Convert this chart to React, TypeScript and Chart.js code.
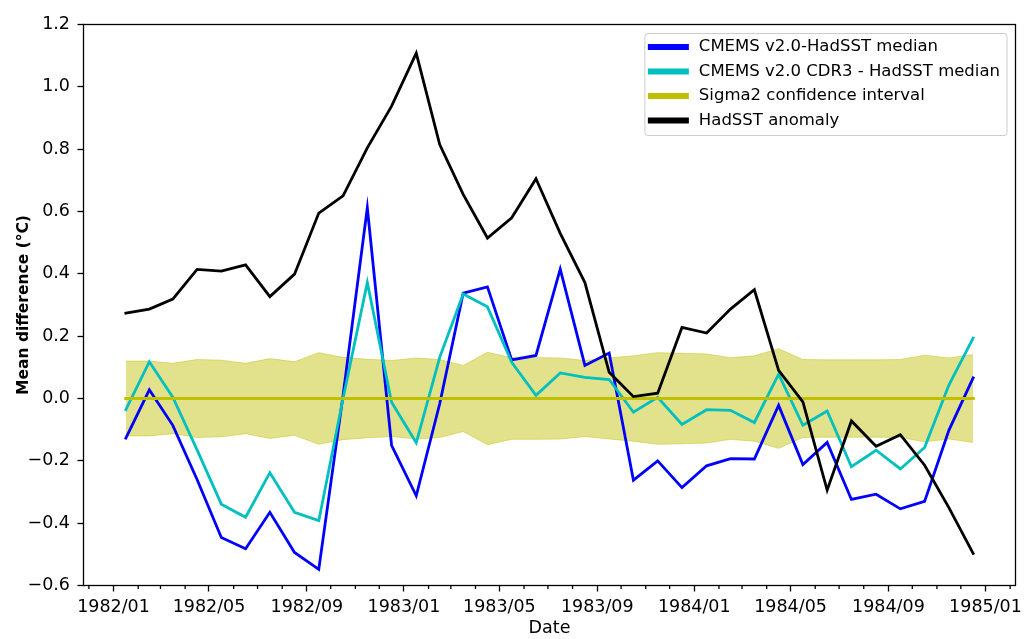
import { useEffect, useRef } from 'react';
import { Chart, registerables } from 'chart.js';

Chart.register(...registerables);

// Monthly series, Jan 1982 – Dec 1984 (plotted at mid-month)
const months = [
  '1982-01', '1982-02', '1982-03', '1982-04', '1982-05', '1982-06',
  '1982-07', '1982-08', '1982-09', '1982-10', '1982-11', '1982-12',
  '1983-01', '1983-02', '1983-03', '1983-04', '1983-05', '1983-06',
  '1983-07', '1983-08', '1983-09', '1983-10', '1983-11', '1983-12',
  '1984-01', '1984-02', '1984-03', '1984-04', '1984-05', '1984-06',
  '1984-07', '1984-08', '1984-09', '1984-10', '1984-11', '1984-12',
];

const cmemsV20MinusHadsst = [
  -0.127, 0.028, -0.086, -0.26, -0.446, -0.482, -0.365, -0.494, -0.548, 0.01, 0.612, -0.15,
  -0.312, -0.017, 0.338, 0.358, 0.124, 0.138, 0.415, 0.106, 0.146, -0.262, -0.2, -0.286,
  -0.216, -0.193, -0.194, -0.022, -0.212, -0.141, -0.324, -0.307, -0.354, -0.33, -0.102, 0.066,
];

const cmemsCdr3MinusHadsst = [
  -0.036, 0.118, 0.004, -0.165, -0.339, -0.381, -0.238, -0.365, -0.392, 0.0, 0.372, -0.012,
  -0.142, 0.132, 0.335, 0.294, 0.116, 0.01, 0.082, 0.068, 0.061, -0.044, 0.004, -0.083,
  -0.036, -0.038, -0.077, 0.078, -0.086, -0.04, -0.219, -0.166, -0.226, -0.157, 0.043, 0.194,
];

// Half-width of the sigma2 confidence band around zero
const sigma2HalfWidth = [
  0.12, 0.12, 0.113, 0.125, 0.123, 0.113, 0.128, 0.118, 0.147, 0.132, 0.126, 0.122,
  0.13, 0.125, 0.106, 0.148, 0.131, 0.131, 0.13, 0.122, 0.13, 0.137, 0.147, 0.145,
  0.143, 0.131, 0.137, 0.16, 0.125, 0.124, 0.124, 0.124, 0.125, 0.139, 0.13, 0.141,
];
const sigma2Centre = 0;

const hadsstAnomaly = [
  0.274, 0.287, 0.319, 0.414, 0.409, 0.429, 0.327, 0.399, 0.595, 0.65, 0.804, 0.938,
  1.108, 0.815, 0.655, 0.515, 0.58, 0.705, 0.53, 0.372, 0.084, 0.006, 0.017, 0.228,
  0.21, 0.287, 0.349, 0.09, -0.011, -0.294, -0.072, -0.153, -0.116, -0.214, -0.35, -0.497,
];

const majorTickMonths = [
  '1982-01', '1982-05', '1982-09', '1983-01', '1983-05',
  '1983-09', '1984-01', '1984-05', '1984-09', '1985-01',
];

const yMin = -0.6;
const yMax = 1.2;
const yStep = 0.2;

const LABEL_V20 = 'CMEMS v2.0-HadSST median';
const LABEL_CDR3 = 'CMEMS v2.0 CDR3 - HadSST median';
const LABEL_SIGMA = 'Sigma2 confidence interval';
const LABEL_HADSST = 'HadSST anomaly';

const BLUE = '#0000ff';
const CYAN = '#00bfbf';
const OLIVE = '#bfbf00';
const BAND = 'rgba(191,191,0,0.45)';

const legendEntries = [
  { label: LABEL_V20, color: BLUE },
  { label: LABEL_CDR3, color: CYAN },
  { label: LABEL_SIGMA, color: OLIVE },
  { label: LABEL_HADSST, color: '#000000' },
];

const FONT = '"DejaVu Sans", sans-serif';

function monthStart(ym: string): number {
  const [y, m] = ym.split('-').map(Number);
  return Date.UTC(y, m - 1, 1);
}
function midMonth(ym: string): number {
  const [y, m] = ym.split('-').map(Number);
  return (Date.UTC(y, m - 1, 1) + Date.UTC(y, m, 1)) / 2;
}
function fmtMonth(v: number): string {
  const d = new Date(v);
  return `${d.getUTCFullYear()}/${String(d.getUTCMonth() + 1).padStart(2, '0')}`;
}

const xs = months.map(midMonth);
const toPoints = (vals: number[]) => vals.map((v, i) => ({ x: xs[i], y: v }));

// Frame around the plot area plus monthly minor ticks on the date axis
const framePlugin = {
  id: 'frameAndMinorTicks',
  afterDraw(chart: any) {
    const { ctx, chartArea: a, scales } = chart;
    const sx = scales.x;
    ctx.save();
    ctx.strokeStyle = '#000';
    ctx.lineWidth = 1.3;
    const d = new Date(sx.min);
    let y = d.getUTCFullYear();
    let m = d.getUTCMonth() + 1;
    ctx.beginPath();
    for (;;) {
      if (m > 11) { m = 0; y += 1; }
      const t = Date.UTC(y, m, 1);
      if (t > sx.max) break;
      if (m % 4 !== 0) {
        const px = sx.getPixelForValue(t);
        ctx.moveTo(px, a.bottom);
        ctx.lineTo(px, a.bottom + 3.5);
      }
      m += 1;
    }
    ctx.stroke();
    ctx.strokeRect(a.left, a.top, a.right - a.left, a.bottom - a.top);
    ctx.restore();
  },
};

const legendPlugin = {
  id: 'boxLegend',
  afterDraw(chart: any) {
    const { ctx, chartArea: a } = chart;
    ctx.save();
    ctx.font = `16.5px ${FONT}`;
    const textW = Math.max(...legendEntries.map((e) => ctx.measureText(e.label).width));
    const padL = 3;
    const handleLen = 41;
    const gap = 10;
    const padR = 7;
    const rowH = 24.5;
    const w = padL + handleLen + gap + textW + padR;
    const h = 13.5 + rowH * (legendEntries.length - 1) + 15;
    const x = a.right - 8.5 - w;
    const y = a.top + 9;
    const r = 3;
    ctx.beginPath();
    ctx.moveTo(x + r, y);
    ctx.lineTo(x + w - r, y);
    ctx.arcTo(x + w, y, x + w, y + r, r);
    ctx.lineTo(x + w, y + h - r);
    ctx.arcTo(x + w, y + h, x + w - r, y + h, r);
    ctx.lineTo(x + r, y + h);
    ctx.arcTo(x, y + h, x, y + h - r, r);
    ctx.lineTo(x, y + r);
    ctx.arcTo(x, y, x + r, y, r);
    ctx.closePath();
    ctx.fillStyle = 'rgba(255,255,255,0.8)';
    ctx.fill();
    ctx.strokeStyle = '#cccccc';
    ctx.lineWidth = 1;
    ctx.stroke();
    legendEntries.forEach((e, i) => {
      const cy = y + 13.5 + i * rowH;
      ctx.strokeStyle = e.color;
      ctx.lineWidth = 6;
      ctx.lineCap = 'butt';
      ctx.beginPath();
      ctx.moveTo(x + padL, cy);
      ctx.lineTo(x + padL + handleLen, cy);
      ctx.stroke();
      ctx.fillStyle = '#000';
      ctx.textBaseline = 'middle';
      ctx.textAlign = 'left';
      ctx.fillText(e.label, x + padL + handleLen + gap, cy);
    });
    ctx.restore();
  },
};

export default function App() {
  const canvasRef = useRef<HTMLCanvasElement | null>(null);

  useEffect(() => {
    document.body.style.margin = '0';
    const canvas = canvasRef.current;
    if (!canvas) return;

    const first = xs[0];
    const last = xs[xs.length - 1];
    const margin = (last - first) * 0.05;

    const lineStyle = {
      pointRadius: 0,
      borderWidth: 2.8,
      tension: 0,
      borderJoinStyle: 'miter' as const,
      borderCapStyle: 'square' as const,
      fill: false,
    };

    const chart = new Chart(canvas, {
      type: 'line',
      data: {
        datasets: [
          {
            label: LABEL_HADSST,
            data: toPoints(hadsstAnomaly),
            borderColor: '#000000',
            order: 0,
            ...lineStyle,
          },
          {
            label: LABEL_SIGMA,
            data: [
              { x: first, y: sigma2Centre },
              { x: last, y: sigma2Centre },
            ],
            borderColor: OLIVE,
            order: 1,
            ...lineStyle,
            borderWidth: 3.2,
          },
          {
            label: LABEL_CDR3,
            data: toPoints(cmemsCdr3MinusHadsst),
            borderColor: CYAN,
            order: 2,
            ...lineStyle,
          },
          {
            label: LABEL_V20,
            data: toPoints(cmemsV20MinusHadsst),
            borderColor: BLUE,
            order: 3,
            ...lineStyle,
          },
          {
            label: 'sigma2 upper',
            data: sigma2HalfWidth.map((s, i) => ({ x: xs[i], y: sigma2Centre + s })),
            borderColor: BAND,
            backgroundColor: BAND,
            borderWidth: 1,
            pointRadius: 0,
            tension: 0,
            fill: '+1',
            order: 4,
          },
          {
            label: 'sigma2 lower',
            data: sigma2HalfWidth.map((s, i) => ({ x: xs[i], y: sigma2Centre - s })),
            borderColor: BAND,
            borderWidth: 1,
            pointRadius: 0,
            tension: 0,
            fill: false,
            order: 5,
          },
        ],
      },
      options: {
        animation: false,
        responsive: false,
        maintainAspectRatio: false,
        devicePixelRatio: 1,
        layout: { padding: { top: 24.5, right: 8.5, left: 0, bottom: 0 } },
        plugins: {
          legend: { display: false },
          tooltip: { enabled: false },
        },
        scales: {
          x: {
            type: 'linear',
            min: first - margin,
            max: last + margin,
            border: { display: false },
            grid: {
              display: true,
              drawOnChartArea: false,
              drawTicks: true,
              tickLength: 6,
              tickWidth: 1.3,
              tickColor: '#000',
            },
            afterBuildTicks: (scale: any) => {
              scale.ticks = majorTickMonths.map((m) => ({ value: monthStart(m) }));
            },
            afterFit: (scale: any) => {
              scale.height = 53.5;
              scale.paddingLeft = 0;
              scale.paddingRight = 0;
            },
            ticks: {
              autoSkip: false,
              maxRotation: 0,
              minRotation: 0,
              padding: 5,
              color: '#000',
              font: { family: FONT, size: 17.5 },
              callback: (v: any) => fmtMonth(Number(v)),
            },
            title: {
              display: true,
              text: 'Date',
              color: '#000',
              font: { family: FONT, size: 17.5 },
              padding: { top: 0, bottom: 0 },
            },
          },
          y: {
            type: 'linear',
            min: yMin,
            max: yMax,
            border: { display: false },
            grid: {
              display: true,
              drawOnChartArea: false,
              drawTicks: true,
              tickLength: 6,
              tickWidth: 1.3,
              tickColor: '#000',
            },
            afterFit: (scale: any) => {
              scale.width = 83.5;
            },
            ticks: {
              stepSize: yStep,
              padding: 7.5,
              color: '#000',
              font: { family: FONT, size: 17.5 },
              callback: (v: any) => {
                const n = Number(v);
                if (Math.abs(n) < 1e-9) return '0.0';
                return (n < 0 ? '\u2212' : '') + Math.abs(n).toFixed(1);
              },
            },
            title: {
              display: true,
              text: 'Mean difference (°C)',
              color: '#000',
              font: { family: FONT, size: 15.5, weight: 'bold' },
              padding: { top: 15, bottom: 0 },
            },
          },
        },
      },
      plugins: [framePlugin, legendPlugin],
    } as any);

    return () => chart.destroy();
  }, []);

  return (
    <div style={{ position: 'absolute', left: 0, top: 0, width: 1024, height: 639, background: '#fff' }}>
      <canvas ref={canvasRef} width={1024} height={639} style={{ display: 'block' }} />
    </div>
  );
}
